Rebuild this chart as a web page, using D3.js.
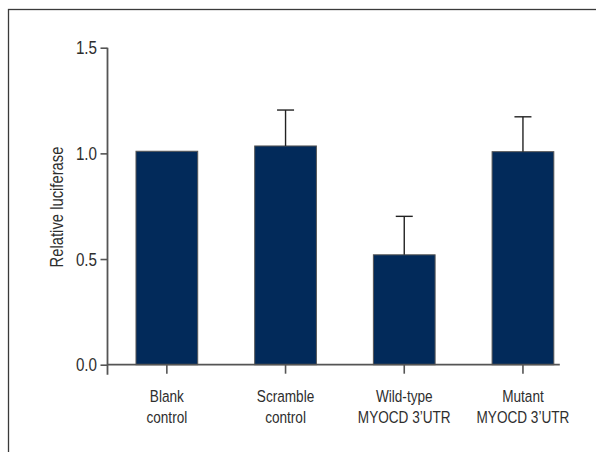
<!DOCTYPE html>
<html>
<head>
<meta charset="utf-8">
<script src="https://cdn.jsdelivr.net/npm/d3@7"></script>
<style>
  body { margin: 0; background: #fff; }
  svg { display: block; }
  text { font-family: "Liberation Sans", Arial, sans-serif; fill: #2e2e2e; }
</style>
</head>
<body>
<svg id="chart"></svg>
<script>
// values
const categories = [["Blank", "control"], ["Scramble", "control"], ["Wild-type", "MYOCD 3\u2019UTR"], ["Mutant", "MYOCD 3\u2019UTR"]];
const values = [1.01, 1.035, 0.52, 1.008];
const errors = [0, 0.17, 0.182, 0.165];
const yTicks = [0, 0.5, 1.0, 1.5];

const W = 596, H = 452;
const narrow = 0.8; // squeeze Liberation Sans to a condensed look

const svg = d3.select("#chart").attr("width", W).attr("height", H);

// frame around the figure (runs off the right and bottom edges)
svg.append("rect")
  .attr("x", 8.5).attr("y", 9.5)
  .attr("width", W + 20).attr("height", H + 20)
  .attr("fill", "none")
  .attr("stroke", "#3a3a3a")
  .attr("stroke-width", 1.3);

const x0 = 107.5, x1 = 582.3;
const x = d3.scaleBand()
  .domain(d3.range(categories.length))
  .range([x0, x1])
  .paddingInner(0.48)
  .paddingOuter(0.24);

const y = d3.scaleLinear().domain([0, 1.5]).range([364.7, 47.7]);

const data = values.map((v, i) => ({i, v, e: errors[i], label: categories[i]}));

// bars
svg.append("g")
  .selectAll("rect")
  .data(data)
  .join("rect")
    .attr("x", d => x(d.i))
    .attr("y", d => y(d.v))
    .attr("width", x.bandwidth())
    .attr("height", d => y(0) - y(d.v))
    .attr("fill", "#022a5a")
    .attr("stroke", "#555")
    .attr("stroke-width", 1);

// error bars (upper only)
const eb = svg.append("g")
  .attr("stroke", "#222")
  .attr("stroke-width", 1.4)
  .selectAll("g")
  .data(data.filter(d => d.e > 0))
  .join("g")
    .attr("transform", d => `translate(${x(d.i) + x.bandwidth() / 2},0)`);

eb.append("line")
  .attr("y1", d => y(d.v))
  .attr("y2", d => y(d.v + d.e));
eb.append("line")
  .attr("x1", -8.5).attr("x2", 8.5)
  .attr("y1", d => y(d.v + d.e))
  .attr("y2", d => y(d.v + d.e));

// y axis
const yAxis = svg.append("g")
  .attr("transform", `translate(${x0},0)`)
  .call(d3.axisLeft(y).tickValues(yTicks).tickFormat(d3.format(".1f")).tickSize(7).tickPadding(3).tickSizeOuter(0));
yAxis.select(".domain").remove();
yAxis.selectAll("line").attr("stroke", "#555").attr("stroke-width", 1.6);
yAxis.selectAll("text")
  .style("font-family", "Liberation Sans, Arial, sans-serif")
  .style("font-size", "19px")
  .attr("fill", "#2e2e2e")
  .attr("x", -10.5 / narrow)
  .attr("transform", `scale(${narrow},1)`);

svg.append("line")
  .attr("x1", x0).attr("x2", x0)
  .attr("y1", y(1.5)).attr("y2", y(0) + 10)
  .attr("stroke", "#555").attr("stroke-width", 1.8);

// x axis
const lastIdx = categories.length - 1;
svg.append("line")
  .attr("x1", x0).attr("x2", x(lastIdx) + x.bandwidth() + 6)
  .attr("y1", y(0)).attr("y2", y(0))
  .attr("stroke", "#555").attr("stroke-width", 1.8);

const xt = svg.append("g")
  .selectAll("g")
  .data(data)
  .join("g")
    .attr("transform", d => `translate(${x(d.i) + x.bandwidth() / 2},${y(0)})`);

xt.append("line")
  .attr("y1", 0).attr("y2", 9)
  .attr("stroke", "#555").attr("stroke-width", 1.6);

const lbl = xt.append("text")
  .attr("text-anchor", "middle")
  .attr("transform", `scale(${narrow},1)`)
  .style("font-size", "17px");
lbl.selectAll("tspan")
  .data(d => d.label)
  .join("tspan")
    .attr("x", 0)
    .attr("y", (d, k) => 37.5 + k * 21.3)
    .text(d => d);

// y label
svg.append("text")
  .attr("transform", `translate(63,207) rotate(-90) scale(${narrow},1)`)
  .attr("text-anchor", "middle")
  .style("font-size", "18.5px")
  .text("Relative luciferase");
</script>
</body>
</html>
